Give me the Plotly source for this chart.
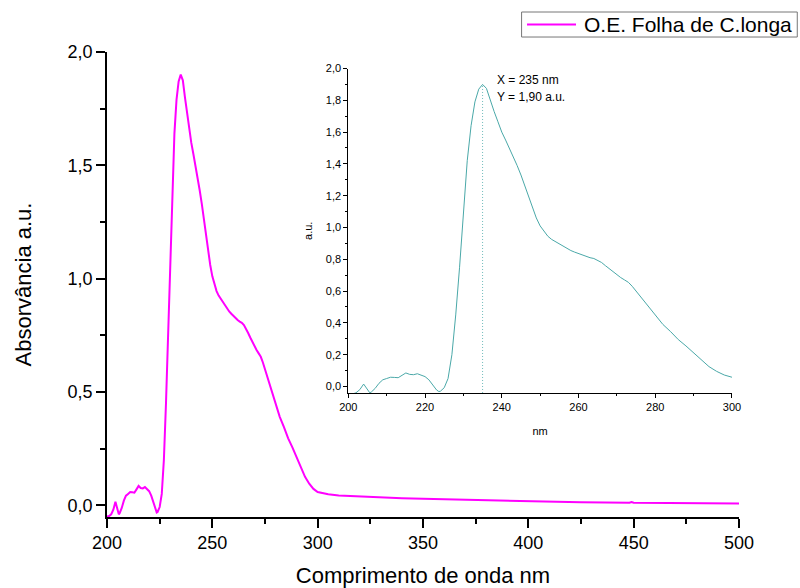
import plotly.graph_objects as go

# UV-Vis absorption spectrum of the essential oil (leaf of C. longa)
wavelength_nm = [
    200, 201, 202, 203, 204, 205, 205.6, 206, 207, 208, 209, 210, 211, 212, 213,
    214, 215, 216, 217, 218, 219, 220, 221, 222, 223, 223.6, 224, 225, 226, 227,
    228, 229, 230, 231, 232, 233, 234, 235, 236, 237, 238, 239, 240, 241, 242,
    243, 244, 245, 246, 247, 248, 249, 250, 251, 252, 253, 254, 255, 256, 257,
    258, 259, 260, 261, 262, 263, 264, 265, 266, 267, 268, 269, 270, 271, 272,
    273, 274, 275, 276, 277, 278, 279, 280, 282, 284, 286, 288, 290, 292, 294,
    296, 298, 300, 305, 310, 320, 330, 340, 350, 375, 400, 425, 448, 449, 450,
    475, 500,
]
absorbance = [
    -0.050, -0.048, -0.040, -0.020, 0.015, -0.020, -0.040, -0.035, -0.012, 0.020,
    0.042, 0.050, 0.058, 0.057, 0.055, 0.070, 0.085, 0.076, 0.074, 0.080,
    0.072, 0.062, 0.042, 0.010, -0.022, -0.032, -0.030, -0.008, 0.050, 0.200,
    0.450, 0.750, 1.100, 1.420, 1.640, 1.790, 1.870, 1.900, 1.875, 1.800,
    1.730, 1.665, 1.600, 1.550, 1.500, 1.450, 1.390, 1.330, 1.260, 1.190,
    1.120, 1.060, 1.010, 0.975, 0.945, 0.925, 0.910, 0.895, 0.880, 0.865,
    0.855, 0.845, 0.835, 0.825, 0.817, 0.810, 0.805, 0.795, 0.780, 0.760,
    0.740, 0.720, 0.700, 0.685, 0.670, 0.655, 0.630, 0.600, 0.575, 0.545,
    0.515, 0.480, 0.450, 0.390, 0.345, 0.295, 0.255, 0.210, 0.165, 0.125,
    0.095, 0.072, 0.058, 0.048, 0.043, 0.038, 0.034, 0.031, 0.028, 0.022,
    0.016, 0.013, 0.011, 0.014, 0.011, 0.009, 0.008,
]
series_name = "O.E. Folha de C.longa"
inset_limit_nm = 300

MAIN_COLOR = "#FF00FF"
INSET_COLOR = "#4AA8A8"
FONT = "Liberation Sans, Arial, sans-serif"

# zoomed-in portion of the spectrum for the inset
inset_x = [w for w in wavelength_nm if w <= inset_limit_nm]
inset_y = absorbance[:len(inset_x)]

peak_i = max(range(len(inset_y)), key=lambda i: inset_y[i])
peak_x, peak_y = inset_x[peak_i], inset_y[peak_i]
inset_ymin = -0.041

fig = go.Figure()
fig.add_trace(go.Scatter(
    x=wavelength_nm, y=absorbance, mode="lines", name=series_name,
    line=dict(color=MAIN_COLOR, width=2), xaxis="x", yaxis="y",
    showlegend=False,
))
fig.add_trace(go.Scatter(
    x=inset_x, y=inset_y, mode="lines", line=dict(color=INSET_COLOR, width=1),
    xaxis="x2", yaxis="y2", showlegend=False,
))
fig.add_trace(go.Scatter(
    x=[peak_x, peak_x], y=[inset_ymin, peak_y], mode="lines",
    line=dict(color=INSET_COLOR, width=0.8, dash="1px,2px"),
    xaxis="x2", yaxis="y2", showlegend=False,
))

main_axis = dict(
    showline=True, linecolor="black", linewidth=1.5, mirror=False,
    ticks="outside", ticklen=9, tickwidth=1.5, tickcolor="black",
    showgrid=False, zeroline=False, automargin=False,
    tickfont=dict(size=18, color="black", family=FONT),
)
inset_axis = dict(
    showline=True, linecolor="black", linewidth=1, mirror=False,
    ticks="outside", ticklen=4, tickwidth=1, tickcolor="black",
    showgrid=False, zeroline=False, automargin=False,
    tickfont=dict(size=11, color="black", family=FONT),
)

fig.update_layout(
    width=800, height=588,
    margin=dict(l=107, r=61, t=52, b=71, autoexpand=False),
    paper_bgcolor="white", plot_bgcolor="white",
    separators=", ",
    font=dict(family=FONT, color="black"),
    xaxis=dict(
        main_axis, range=[200, 500], tick0=200, dtick=50,
        minor=dict(dtick=25, ticklen=5, tickwidth=1.5, ticks="outside", tickcolor="black"),
        title=dict(text="Comprimento de onda nm", font=dict(size=22), standoff=16),
    ),
    yaxis=dict(
        main_axis, range=[-0.052, 2.0], tick0=0, dtick=0.5, tickformat=".1f",
        minor=dict(dtick=0.25, ticklen=5, tickwidth=1.5, ticks="outside", tickcolor="black"),
        title=dict(text="Absorvância a.u.", font=dict(size=22), standoff=30),
    ),
    xaxis2=dict(
        inset_axis, domain=[0.3818, 0.9889], anchor="y2", range=[200, 300],
        tick0=200, dtick=20,
        minor=dict(dtick=10, ticklen=2.5, ticks="outside", tickcolor="black"),
        title=dict(text="nm", font=dict(size=11), standoff=15),
    ),
    yaxis2=dict(
        inset_axis, domain=[0.2667, 0.9645], anchor="x2", range=[inset_ymin, 2.0],
        tick0=0, dtick=0.2, tickformat=".1f",
        minor=dict(dtick=0.1, ticklen=2.5, ticks="outside", tickcolor="black"),
        title=dict(text="a.u.", font=dict(size=11), standoff=10),
    ),
)

# peak readout in the inset
peak_label_y = f"{peak_y:.2f}".replace(".", ",")
fig.add_annotation(
    x=peak_x, y=peak_y, xref="x2", yref="y2", text=f"X = {peak_x:g} nm",
    showarrow=False, xanchor="left", yanchor="middle", xshift=12, yshift=4,
    font=dict(size=12, color="black"),
)
fig.add_annotation(
    x=peak_x, y=peak_y, xref="x2", yref="y2", text=f"Y = {peak_label_y} a.u.",
    showarrow=False, xanchor="left", yanchor="middle", xshift=12, yshift=-13,
    font=dict(size=12, color="black"),
)

# legend box (top right)
fig.add_shape(type="rect", xref="paper", yref="paper",
              x0=0.656, x1=1.0922, y0=1.0322, y1=1.0860,
              line=dict(color="#777777", width=1), fillcolor="white")
fig.add_shape(type="line", xref="paper", yref="paper",
              x0=0.6646, x1=0.7421, y0=1.0591, y1=1.0591,
              line=dict(color=MAIN_COLOR, width=2))
fig.add_annotation(
    x=0.7515, y=1.0591, xref="paper", yref="paper", text=series_name,
    showarrow=False, xanchor="left", yanchor="middle",
    font=dict(size=21, color="black"),
)

fig.write_html("out.html")
